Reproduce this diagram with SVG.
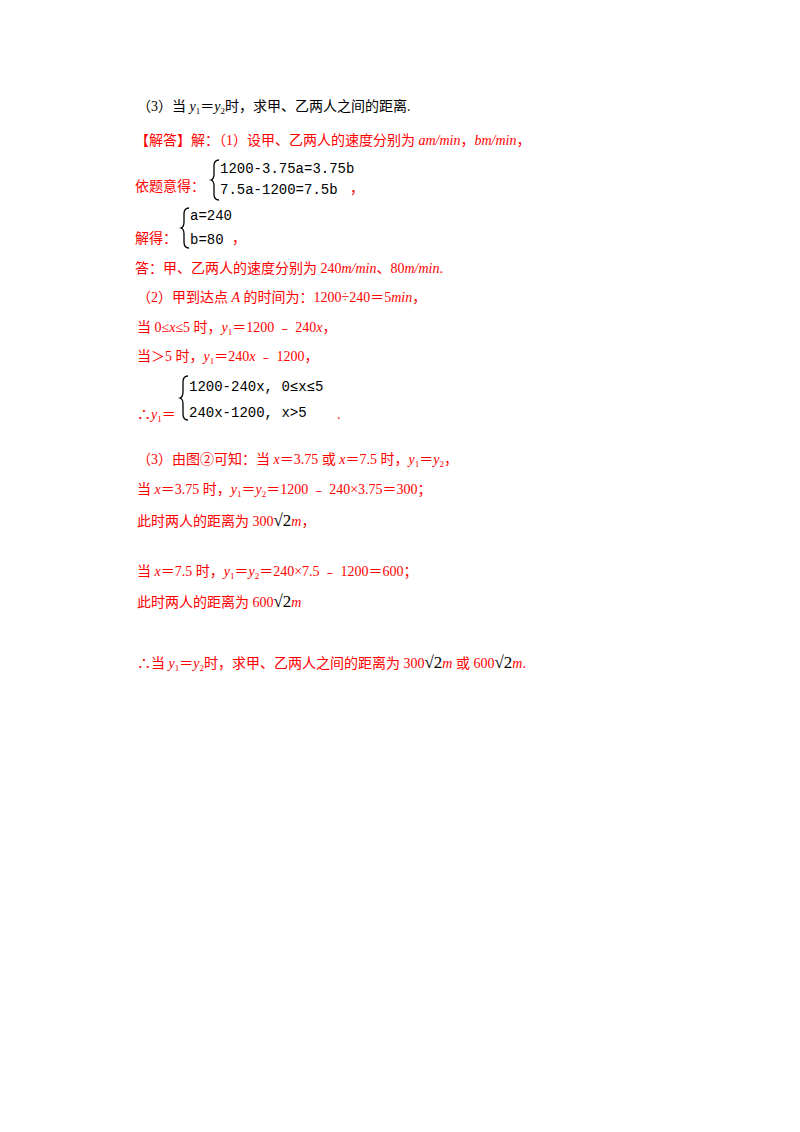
<svg xmlns="http://www.w3.org/2000/svg" width="800" height="1132" viewBox="0 0 800 1132">
<style>
text{font-family:"Liberation Serif","Noto Sans CJK SC",serif;font-size:14px;fill:#ff0000}
.k{fill:#000}
.i{font-style:italic}
.s{font-size:9px}
.m{font-family:"Liberation Mono","DejaVu Sans Mono",monospace;font-size:14px;fill:#000}
.br{fill:none;stroke:#000;stroke-width:1.3}
</style>
<rect width="800" height="1132" fill="#fff"/>
<g id="q3">
<text class="k" x="137" y="111">（3）当 <tspan class="i">y</tspan><tspan class="s" dy="3">1</tspan><tspan dy="-3">＝</tspan><tspan class="i">y</tspan><tspan class="s" dy="3">2</tspan><tspan dy="-3">时，求甲、乙两人之间的距离.</tspan></text>
</g>
<g id="part1">
<text x="135" y="145">【解答】解：（1）设甲、乙两人的速度分别为 <tspan class="i">am/min</tspan>，<tspan class="i">bm/min</tspan>，</text>
<path class="br" d="M219,160 q-5,0 -5,6 v8 q0,5 -3,6 q3,1 3,6 v8 q0,6 5,6"/>
<text class="m" x="220" y="173">1200-3.75a=3.75b</text>
<text class="m" x="220" y="194">7.5a-1200=7.5b</text>
<text x="135" y="191">依题意得：</text>
<text x="350" y="193">，</text>
<path class="br" d="M189,208 q-5,0 -5,6 v8 q0,5 -3,6 q3,1 3,6 v8 q0,6 5,6"/>
<text class="m" x="190" y="220">a=240</text>
<text class="m" x="190" y="244">b=80</text>
<text x="135" y="243">解得：</text>
<text x="232" y="243">，</text>
<text x="135" y="273">答：甲、乙两人的速度分别为 240<tspan class="i">m/min</tspan>、80<tspan class="i">m/min</tspan>.</text>
</g>
<g id="part2">
<text x="137" y="302">（2）甲到达点 <tspan class="i">A</tspan> 的时间为：1200÷240＝5<tspan class="i">min</tspan>，</text>
<text x="137" y="332">当 0≤<tspan class="i">x</tspan>≤5 时，<tspan class="i">y</tspan><tspan class="s" dy="3">1</tspan><tspan dy="-3">＝1200 ﹣ 240</tspan><tspan class="i">x</tspan>，</text>
<text x="137" y="361">当＞5 时，<tspan class="i">y</tspan><tspan class="s" dy="3">1</tspan><tspan dy="-3">＝240</tspan><tspan class="i">x</tspan> ﹣ 1200，</text>
<path class="br" d="M188,376 q-5,0 -5,6 v10 q0,5 -3,6 q3,1 3,6 v10 q0,6 5,6"/>
<text class="m" x="189" y="391">1200-240x, 0≤x≤5</text>
<text class="m" x="189" y="417">240x-1200, x&gt;5</text>
<text x="137" y="419">∴<tspan class="i">y</tspan><tspan class="s" dy="3">1</tspan><tspan dy="-3">＝</tspan></text>
<text x="337" y="419">.</text>
</g>
<g id="part3">
<text x="137" y="464">（3）由图②可知：当 <tspan class="i">x</tspan>＝3.75 或 <tspan class="i">x</tspan>＝7.5 时，<tspan class="i">y</tspan><tspan class="s" dy="3">1</tspan><tspan dy="-3">＝</tspan><tspan class="i">y</tspan><tspan class="s" dy="3">2</tspan><tspan dy="-3">，</tspan></text>
<text x="137" y="494">当 <tspan class="i">x</tspan>＝3.75 时，<tspan class="i">y</tspan><tspan class="s" dy="3">1</tspan><tspan dy="-3">＝</tspan><tspan class="i">y</tspan><tspan class="s" dy="3">2</tspan><tspan dy="-3">＝1200 ﹣ 240×3.75＝300；</tspan></text>
<text x="137" y="526">此时两人的距离为 300<tspan class="k" font-size="17">√2</tspan><tspan class="i">m</tspan>，</text>
<text x="137" y="576">当 <tspan class="i">x</tspan>＝7.5 时，<tspan class="i">y</tspan><tspan class="s" dy="3">1</tspan><tspan dy="-3">＝</tspan><tspan class="i">y</tspan><tspan class="s" dy="3">2</tspan><tspan dy="-3">＝240×7.5 ﹣ 1200＝600；</tspan></text>
<text x="137" y="607">此时两人的距离为 600<tspan class="k" font-size="17">√2</tspan><tspan class="i">m</tspan></text>
<text x="137" y="668">∴当 <tspan class="i">y</tspan><tspan class="s" dy="3">1</tspan><tspan dy="-3">＝</tspan><tspan class="i">y</tspan><tspan class="s" dy="3">2</tspan><tspan dy="-3">时，求甲、乙两人之间的距离为 300</tspan><tspan class="k" font-size="17">√2</tspan><tspan class="i">m</tspan> 或 600<tspan class="k" font-size="17">√2</tspan><tspan class="i">m</tspan>.</text>
</g>
<g id="connectors"/>
</svg>
